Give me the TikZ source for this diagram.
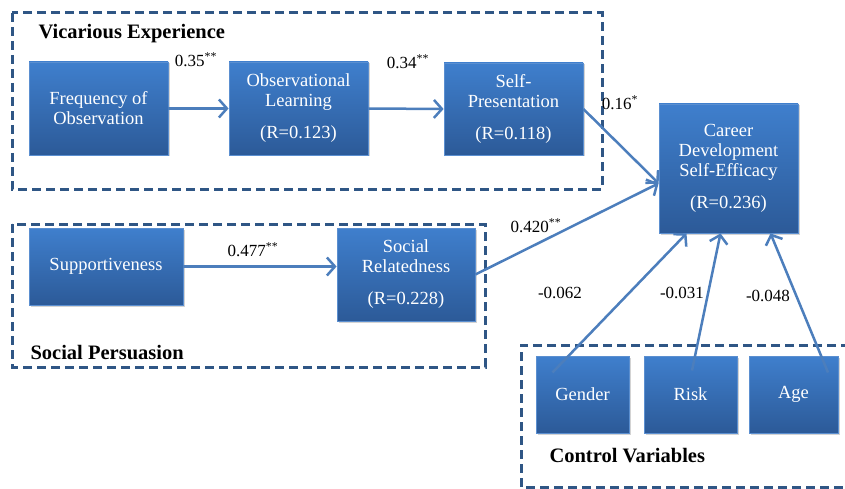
\documentclass[tikz,border=0pt]{standalone}
\usepackage{fontspec}
\setmainfont{Liberation Serif}
\usepackage{tikz}
\usepackage{xcolor}
\usetikzlibrary{arrows.meta,shadows}
\definecolor{boxtop}{HTML}{3F7FCD}
\definecolor{boxbot}{HTML}{2C5A98}
\definecolor{boxedge}{HTML}{5B8FD0}
\definecolor{framecol}{HTML}{2F5685}
\definecolor{linkcol}{HTML}{4C7EBC}

\begin{document}
\begin{tikzpicture}[x=1pt,y=-1pt,
            block/.style={draw=boxedge, line width=0.8pt, top color=boxtop, bottom color=boxbot, text=white, align=center, inner sep=0pt, font=\fontsize{18.5}{20}\selectfont, drop shadow={opacity=0.35,shadow xshift=1.5pt,shadow yshift=-1.5pt}},
            frame/.style={draw=framecol, line width=3pt, dash pattern=on 9pt off 5pt},
            link/.style={draw=linkcol, line width=2.5pt, -{Straight Barb[length=8pt,width=18pt]}},
            coef/.style={font=\fontsize{17}{20}\selectfont},
            grouptitle/.style={font=\fontsize{20.5}{22}\selectfont\bfseries}]
            \useasboundingbox (0,0) rectangle (845,489);
            \draw[frame] (12,13) rectangle (602,189);
            \draw[frame] (12,224) rectangle (485,367);
            \draw[frame] (850,345) -- (521,345) -- (521,487) -- (850,487);
            \node[grouptitle, anchor=west] (vicar) at (35,34) {Vicarious Experience};
            \node[grouptitle, anchor=west] (persu) at (27,353) {Social Persuasion};
            \node[grouptitle, anchor=west] (contr) at (546,456) {Control Variables};
            \node[block, minimum width=139pt, minimum height=93pt] (freq) at (98.5,108.5) {Frequency of\\Observation};
            \node[block, minimum width=139pt, minimum height=93pt] (obs) at (298.5,108.5) {Observational\\Learning\\[12pt](R=0.123)};
            \node[block, minimum width=139pt, minimum height=92pt] (selfp) at (513.5,109) {Self-\\Presentation\\[12pt](R=0.118)};
            \node[block, minimum width=139pt, minimum height=129pt] (career) at (728.5,168.5) {Career\\Development\\Self-Efficacy\\[12pt](R=0.236)};
            \node[block, minimum width=154pt, minimum height=77pt] (supp) at (106,266.5) {Supportiveness};
            \node[block, minimum width=138pt, minimum height=93pt] (socrel) at (406,274.5) {Social\\Relatedness\\[12pt](R=0.228)};
            \node[block, minimum width=93pt, minimum height=77pt] (gender) at (582.5,394.5) {Gender};
            \node[block, minimum width=93pt, minimum height=77pt] (risk) at (690.5,394.5) {Risk};
            \node[block, minimum width=89pt, minimum height=77pt] (age) at (793.5,394.5) {Age};
            \draw[link] (freq.east) -- (obs.west);
            \draw[link] (obs.east) -- (selfp.west);
            \draw[link] (selfp.east) -- (career.192);
            \draw[link] (supp.east) -- (socrel.west |- supp.east);
            \draw[link] (socrel.east) -- (career.192);
            \draw[link] ([shift={(-30,-22)}]gender.center) -- ([xshift=-42pt]career.south);
            \draw[link] ([shift={(1.5,-24)}]risk.center) -- ([xshift=-8pt]career.south);
            \draw[link] ([shift={(34.5,-22)}]age.center) -- ([xshift=42pt]career.south);
            \node[coef] (c1) at (196,60) {0.35\textsuperscript{**}};
            \node[coef] (c2) at (408,62) {0.34\textsuperscript{**}};
            \node[coef] (c3) at (620,103) {0.16\textsuperscript{*}};
            \node[coef] (c4) at (536,226) {0.420\textsuperscript{**}};
            \node[coef] (c5) at (253,250) {0.477\textsuperscript{**}};
            \node[coef] (c6) at (560,293) {-0.062};
            \node[coef] (c7) at (682,293) {-0.031};
            \node[coef] (c8) at (768,296) {-0.048};
        \end{tikzpicture}
\end{document}
